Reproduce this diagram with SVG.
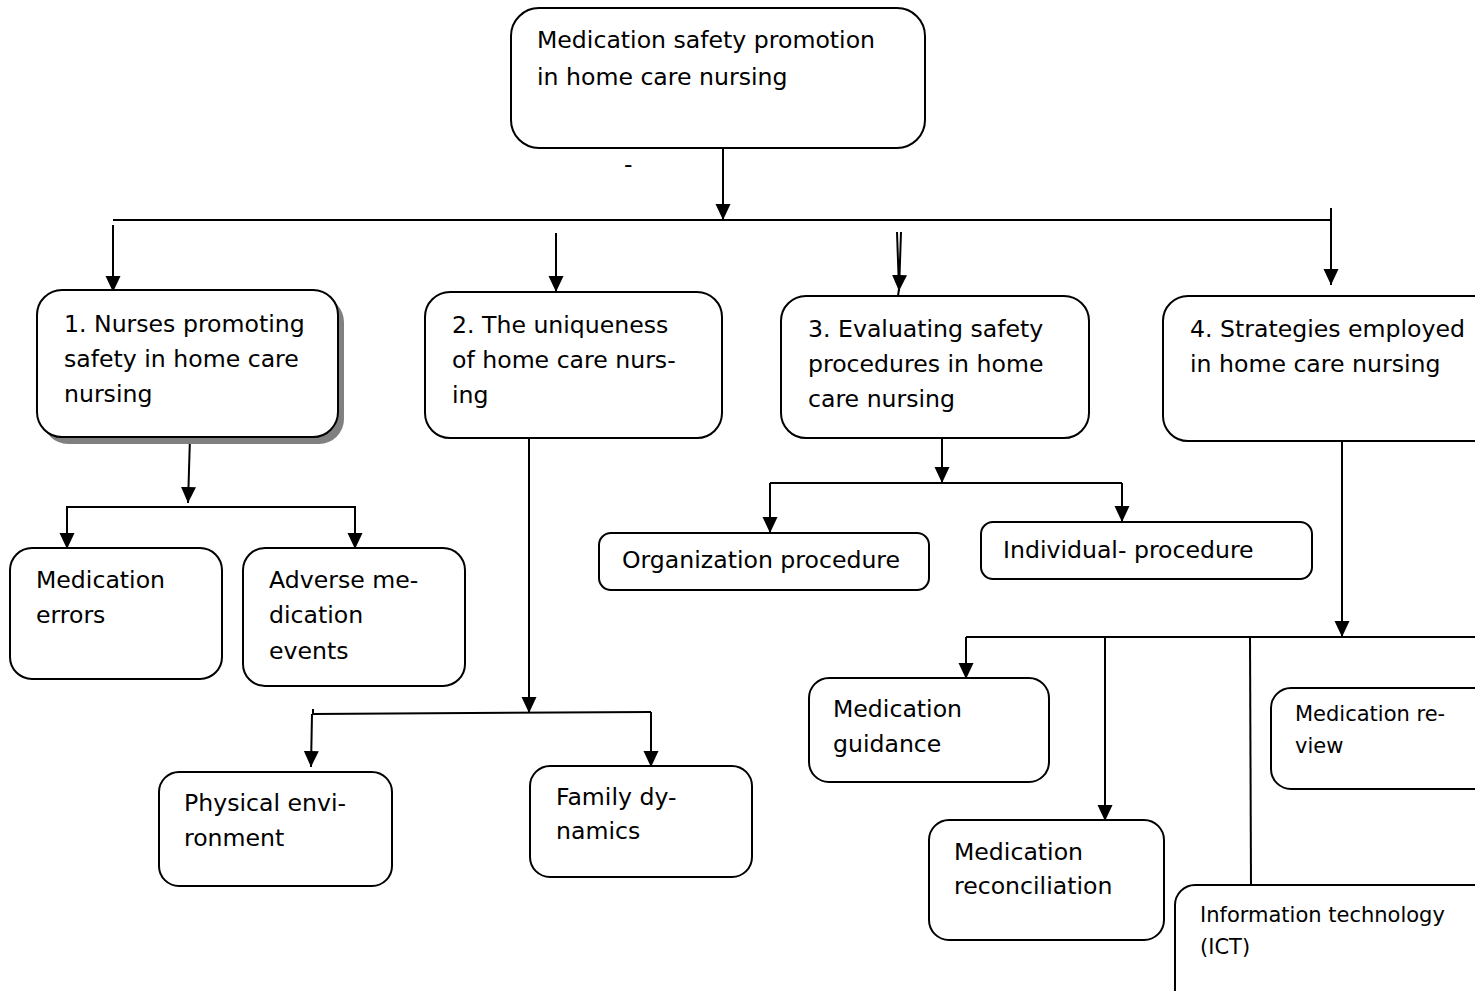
<svg xmlns="http://www.w3.org/2000/svg" width="1475" height="991" viewBox="0 0 1475 991">
<style>
.box{fill:#fff;stroke:#000;stroke-width:2}
.t{font-family:"DejaVu Sans",Verdana,sans-serif;font-size:23.6px;fill:#000}
.s{font-family:"DejaVu Sans",Verdana,sans-serif;font-size:21px;fill:#000}
.c{stroke:#000;stroke-width:2;fill:none}
.a{stroke:#000;stroke-width:2;fill:none;marker-end:url(#ah)}
</style>
<defs>
<marker id="ah" markerWidth="17" markerHeight="16" refX="16" refY="7.5" orient="auto" markerUnits="userSpaceOnUse"><path d="M0,0 L16,7.5 L0,15 z" fill="#000"/></marker>
</defs>
<rect width="1475" height="991" fill="#fff"/>
<g id="connectors">
<line class="a" x1="723" y1="148" x2="723" y2="220"/>
<line class="c" x1="113" y1="220" x2="1332" y2="220"/>
<line class="a" x1="113" y1="225" x2="113" y2="292"/>
<line class="a" x1="556" y1="233" x2="556" y2="292"/>
<line class="c" x1="897" y1="232" x2="899" y2="289"/>
<line class="a" x1="901" y1="232" x2="899" y2="291"/>
<line class="c" x1="899" y1="289" x2="898" y2="296"/>
<line class="a" x1="1331" y1="208" x2="1331" y2="285"/>
<line class="a" x1="190" y1="437" x2="188" y2="503"/>
<polyline class="c" points="67,526 67,507 355,507 355,526"/>
<line class="a" x1="67" y1="507" x2="67" y2="549"/>
<line class="a" x1="355" y1="507" x2="355" y2="549"/>
<line class="a" x1="529" y1="438" x2="529" y2="713"/>
<line class="c" x1="312" y1="714" x2="651" y2="712"/>
<line class="c" x1="313" y1="709" x2="313" y2="714"/>
<line class="a" x1="312" y1="714" x2="311" y2="767"/>
<line class="a" x1="651" y1="712" x2="651" y2="767"/>
<line class="a" x1="942" y1="438" x2="942" y2="483"/>
<line class="c" x1="770" y1="483" x2="1122" y2="483"/>
<line class="a" x1="770" y1="483" x2="770" y2="533"/>
<line class="a" x1="1122" y1="483" x2="1122" y2="522"/>
<line class="a" x1="1342" y1="441" x2="1342" y2="637"/>
<line class="c" x1="966" y1="637" x2="1475" y2="637"/>
<line class="a" x1="966" y1="637" x2="966" y2="679"/>
<line class="a" x1="1105" y1="637" x2="1105" y2="821"/>
<line class="c" x1="1250" y1="637" x2="1251" y2="885"/>
</g>
<g id="n0">
<rect class="box" x="511" y="8" width="414" height="140" rx="28"/>
<text class="t" x="537" y="48">Medication safety promotion</text>
<text class="t" x="537" y="85">in home care nursing</text>
<text class="t" x="624" y="172">-</text>
</g>
<g id="n1">
<rect x="43" y="297" width="301" height="147" rx="25" fill="#808080"/>
<rect class="box" x="37" y="290" width="301" height="147" rx="25"/>
<text class="t" x="64" y="332">1.  Nurses promoting</text>
<text class="t" x="64" y="367">safety in home care</text>
<text class="t" x="64" y="402">nursing</text>
</g>
<g id="n2">
<rect class="box" x="425" y="292" width="297" height="146" rx="25"/>
<text class="t" x="452" y="333">2.  The uniqueness</text>
<text class="t" x="452" y="368">of home care nurs-</text>
<text class="t" x="452" y="403">ing</text>
</g>
<g id="n3">
<rect class="box" x="781" y="296" width="308" height="142" rx="25"/>
<text class="t" x="808" y="337">3. Evaluating safety</text>
<text class="t" x="808" y="372">procedures in home</text>
<text class="t" x="808" y="407">care nursing</text>
</g>
<g id="n4">
<rect class="box" x="1163" y="296" width="340" height="145" rx="25"/>
<text class="t" x="1190" y="337">4. Strategies employed</text>
<text class="t" x="1190" y="372">in home care nursing</text>
</g>
<g id="n5">
<rect class="box" x="10" y="548" width="212" height="131" rx="22"/>
<text class="t" x="36" y="588">Medication</text>
<text class="t" x="36" y="623">errors</text>
</g>
<g id="n6">
<rect class="box" x="243" y="548" width="222" height="138" rx="22"/>
<text class="t" x="269" y="588">Adverse me-</text>
<text class="t" x="269" y="623">dication</text>
<text class="t" x="269" y="659">events</text>
</g>
<g id="n7">
<rect class="box" x="159" y="772" width="233" height="114" rx="20"/>
<text class="t" x="184" y="811">Physical envi-</text>
<text class="t" x="184" y="846">ronment</text>
</g>
<g id="n8">
<rect class="box" x="530" y="766" width="222" height="111" rx="20"/>
<text class="t" x="556" y="805">Family dy-</text>
<text class="t" x="556" y="839">namics</text>
</g>
<g id="n9">
<rect class="box" x="599" y="533" width="330" height="57" rx="12"/>
<text class="t" x="622" y="568">Organization procedure</text>
</g>
<g id="n10">
<rect class="box" x="981" y="522" width="331" height="57" rx="12"/>
<text class="t" x="1003" y="558">Individual- procedure</text>
</g>
<g id="n11">
<rect class="box" x="809" y="678" width="240" height="104" rx="20"/>
<text class="t" x="833" y="717">Medication</text>
<text class="t" x="833" y="752">guidance</text>
</g>
<g id="n12">
<rect class="box" x="929" y="820" width="235" height="120" rx="20"/>
<text class="t" x="954" y="860">Medication</text>
<text class="t" x="954" y="894">reconciliation</text>
</g>
<g id="n13">
<rect class="box" x="1271" y="688" width="240" height="101" rx="20"/>
<text class="s" x="1295" y="721">Medication re-</text>
<text class="s" x="1295" y="753">view</text>
</g>
<g id="n14">
<rect class="box" x="1175" y="885" width="330" height="130" rx="20"/>
<text class="s" x="1200" y="922">Information technology</text>
<text class="s" x="1200" y="954">(ICT)</text>
</g>
</svg>
